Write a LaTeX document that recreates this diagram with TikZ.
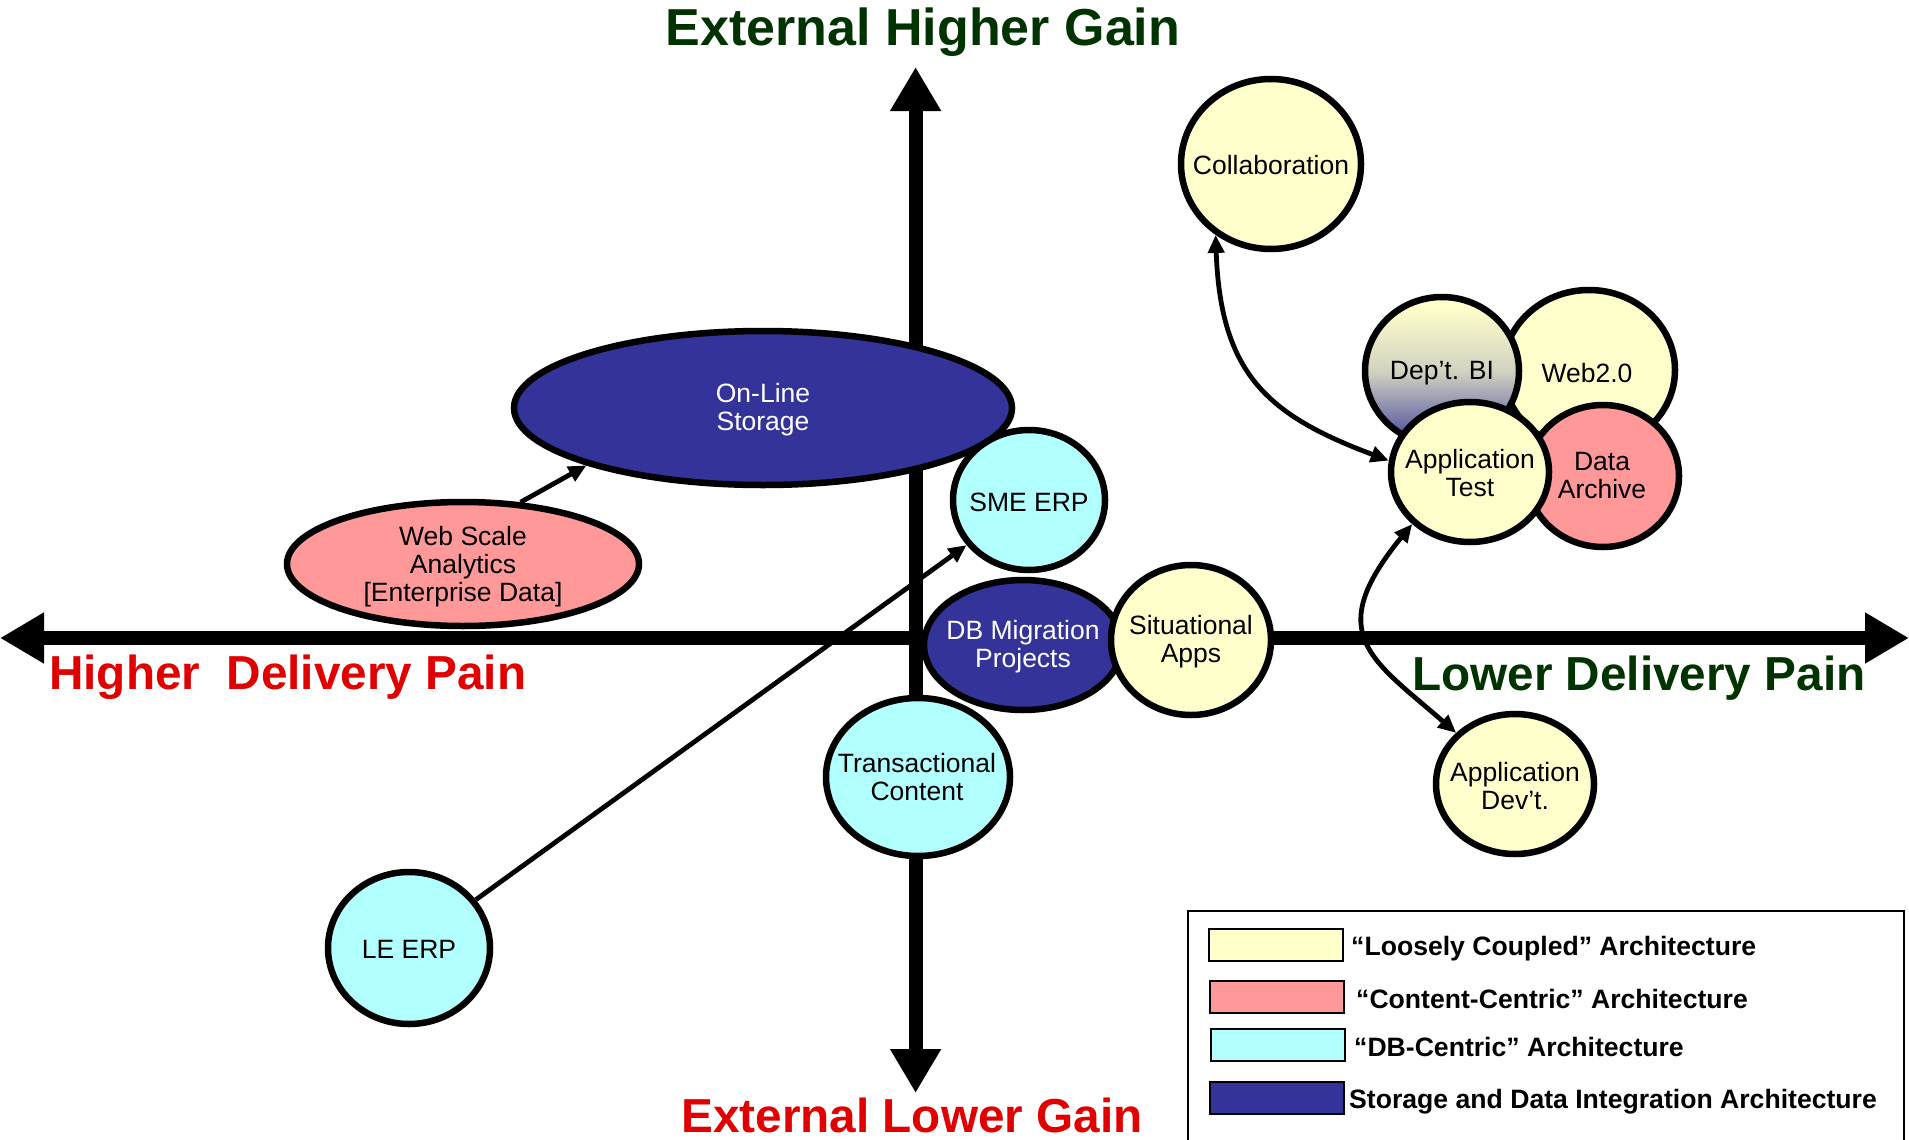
\documentclass[tikz,border=0pt]{standalone}
\usepackage{fontspec}
\setmainfont{Liberation Sans}
\usetikzlibrary{shapes.geometric,arrows.meta}
\definecolor{cY}{HTML}{FFFFCC}
\definecolor{cP}{HTML}{FF9999}
\definecolor{cC}{HTML}{B2FFFF}
\definecolor{cN}{HTML}{333399}
\definecolor{cG}{HTML}{003300}
\definecolor{cR}{HTML}{E00000}
\pgfdeclareverticalshading{deptbishade}{100bp}{color(0bp)=(cN);color(25bp)=(cN!92!cY);color(50bp)=(cN!22!cY);color(72bp)=(cY);color(100bp)=(cY)}
\begin{document}
\begin{tikzpicture}[x=1pt,y=-1pt,
  bub/.style={ellipse, draw=black, line width=6.5pt, inner sep=0pt},
  txt/.style={font=\fontsize{26.5}{28}\selectfont, align=center, inner sep=0pt},
  wtxt/.style={txt, text=white},
  axisline/.style={line width=14pt, -{Triangle[length=44pt,width=48pt]}},
  conn/.style={line width=4.8pt, -{Triangle[length=18pt,width=16pt]}},
  conntwo/.style={line width=4.8pt, {Triangle[length=18pt,width=16pt]}-{Triangle[length=18pt,width=16pt]}},
  bigred/.style={font=\fontsize{47.7}{50}\selectfont\bfseries, text=cR, inner sep=0pt},
  biggreen/.style={font=\fontsize{47.7}{50}\selectfont\bfseries, text=cG, inner sep=0pt},
  legtxt/.style={font=\fontsize{26.6}{28}\selectfont\bfseries, inner sep=0pt, anchor=west},
  swatch/.style={draw=black, line width=2pt}
]
\useasboundingbox (0,0) rectangle (1909,1140);
\fill[white] (0,0) rectangle (1909,1140);

% axes
\coordinate (ctr) at (915.6,638);
\coordinate (axL) at (0,638);
\coordinate (axR) at (1909,638);
\coordinate (axT) at (915.6,67);
\coordinate (axB) at (915.6,1093);
\draw[axisline] (ctr) -- (axL);
\draw[axisline] (ctr) -- (axR);
\draw[axisline] (ctr) -- (axT);
\draw[axisline] (ctr) -- (axB);

% axis labels
\node[font=\fontsize{52}{54}\selectfont\bfseries, text=cG, inner sep=0pt, anchor=base] (ttop) at (923,46) {External Higher Gain};
\node[bigred, anchor=base] (tbot) at (912,1132) {External Lower Gain};
\node[bigred, anchor=base west] (tleft) at (49,689) {Higher~~Delivery Pain};
\node[biggreen, anchor=base west] (tright) at (1412,690) {Lower Delivery Pain};

% bubbles
\node[bub, fill=cN, minimum width=498pt, minimum height=154pt] (ols) at (763,408) {};
\node[wtxt] (ols-t) at (763,410) {On-Line\\Storage};
\node[bub, fill=cP, minimum width=352pt, minimum height=124pt] (ws) at (463,564) {};
\node[txt] (ws-t) at (463,567) {Web Scale\\Analytics\\{[Enterprise Data]}};
\node[bub, fill=cC, minimum width=152pt, minimum height=140pt] (sme) at (1029,500) {};
\node[txt] (sme-t) at (1029,502) {SME ERP};
\node[bub, fill=cN, minimum width=198pt, minimum height=130pt] (dbm) at (1023,645) {};
\node[wtxt] (dbm-t) at (1023,647) {DB Migration\\Projects};
\node[bub, fill=cY, minimum width=160pt, minimum height=150pt] (sit) at (1191,640) {};
\node[txt] (sit-t) at (1191,642) {Situational\\Apps};
\node[bub, fill=cC, minimum width=184pt, minimum height=158pt] (tc) at (918,777) {};
\node[txt] (tc-t) at (917,777) {Transactional\\Content};
\node[bub, fill=cC, minimum width=162pt, minimum height=152pt] (le) at (409,948) {};
\node[txt] (le-t) at (409,949) {LE ERP};
\node[bub, fill=cY, minimum width=180pt, minimum height=170pt] (collab) at (1271,164) {};
\node[txt] (collab-t) at (1271,165) {Collaboration};
\node[bub, fill=cY, minimum width=172pt, minimum height=160pt] (web2) at (1589,370) {};
\node[txt] (web2-t) at (1587,373) {Web2.0};
\node[bub, fill=cP, minimum width=152pt, minimum height=142pt] (darch) at (1603,476) {};
\node[txt] (darch-t) at (1602,476) {Data\\Archive};
\node[bub, shading=deptbishade, minimum width=154pt, minimum height=148pt] (deptbi) at (1442,371) {};
\node[txt] (deptbi-t) at (1442,373) {Dep’t. BI};
\node[bub, fill=cY, minimum width=158pt, minimum height=140pt] (apptest) at (1470,472) {};
\node[txt] (apptest-t) at (1470,473) {Application\\Test};
\node[bub, fill=cY, minimum width=158pt, minimum height=140pt] (appdev) at (1515,784) {};
\node[txt] (appdev-t) at (1515,786) {Application\\Dev’t.};

% connectors
\draw[conn] (le) -- (sme);
\draw[conn] (ws.47) -- (ols.198);
\draw[conntwo] (collab.232) .. controls +(5,140) and +(-120,-45) .. (apptest.172);
\draw[conntwo] (apptest.222) .. controls +(-90,110) and +(-85,-74) .. (appdev.139);

% legend
\draw[line width=2.5pt] (1188,1150) -- (1188,911) -- (1904,911) -- (1904,1150);
\node[swatch, fill=cY, minimum width=134pt, minimum height=32pt, inner sep=0pt] (sw1) at (1276,945) {};
\node[swatch, fill=cP, minimum width=134pt, minimum height=32pt, inner sep=0pt] (sw2) at (1277,997) {};
\node[swatch, fill=cC, minimum width=134pt, minimum height=32pt, inner sep=0pt] (sw3) at (1278,1045) {};
\node[swatch, fill=cN, minimum width=134pt, minimum height=32pt, inner sep=0pt] (sw4) at (1277,1098) {};
\node[legtxt] (lg1) at (1351,949) {“Loosely Coupled” Architecture};
\node[legtxt] (lg2) at (1356,999) {“Content-Centric” Architecture};
\node[legtxt] (lg3) at (1354,1047) {“DB-Centric” Architecture};
\node[legtxt] (lg4) at (1349,1102) {Storage and Data Integration Architecture};
\end{tikzpicture}
\end{document}
